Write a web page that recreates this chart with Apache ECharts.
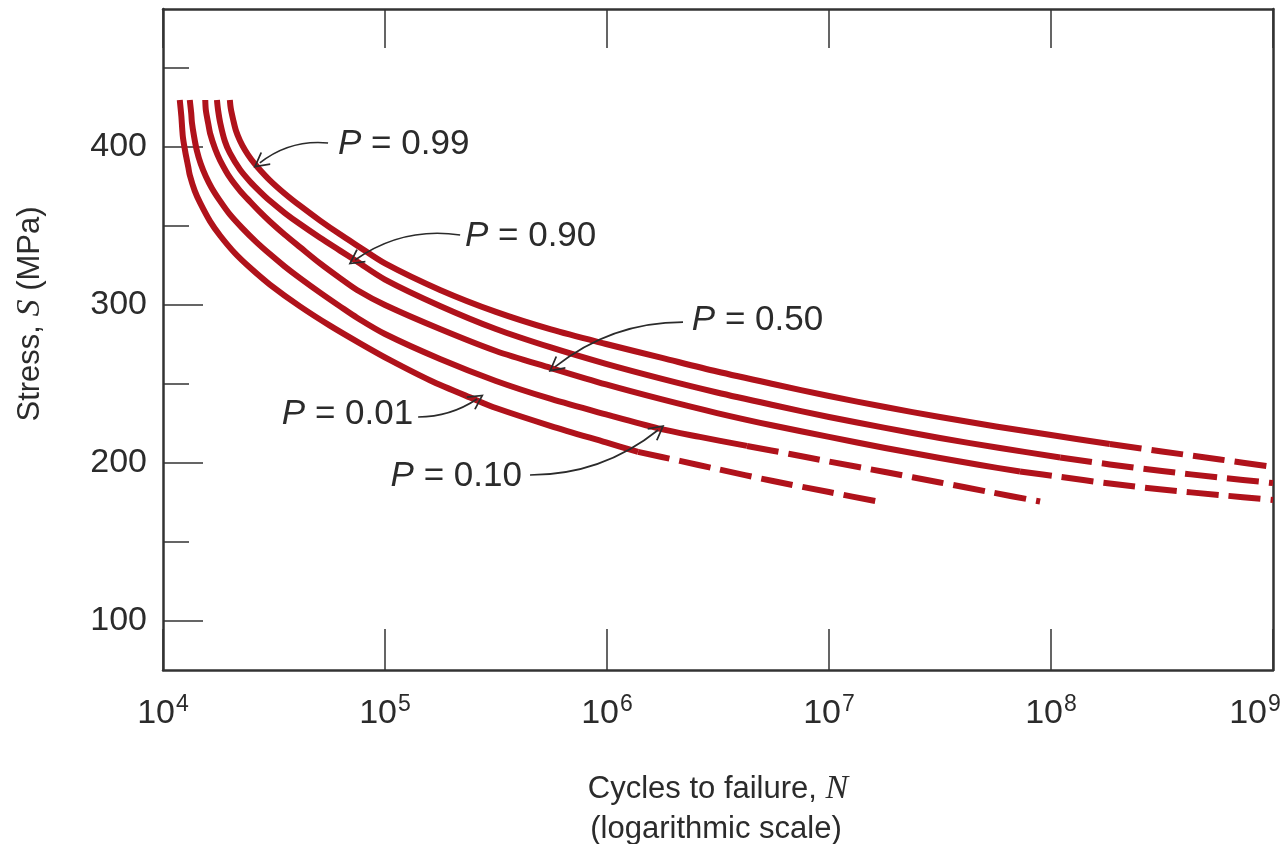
<!DOCTYPE html>
<html>
<head>
<meta charset="utf-8">
<script src="https://cdn.jsdelivr.net/npm/echarts@6/dist/echarts.min.js"></script>
<style>
html,body{margin:0;padding:0;background:#ffffff;}
#chart{width:1283px;height:844px;}
</style>
</head>
<body>
<div id="chart"></div>
<script>
// ---- data (N = cycles to failure, S = stress in MPa) ----
const xTickExponents = [4, 5, 6, 7, 8, 9];
const yMajorTicks = [100, 200, 300, 400];
const yMinorTicks = [150, 250, 350, 450];

const p99Solid = [[2.00e4,429.7],[2.02e4,424.3],[2.07e4,417.3],[2.13e4,410.4],[2.22e4,404.1],[2.34e4,398.1],[2.49e4,392.4],[2.68e4,386.9],[3.03e4,378.9],[3.54e4,370.4],[4.14e4,362.8],[5.10e4,353.4],[6.27e4,344.7],[7.48e4,337.7],[1.00e5,326.3],[1.77e5,309.5],[3.16e5,295.6],[5.59e5,284.5],[9.90e5,275.3],[1.77e6,266.5],[3.13e6,257.9],[5.59e6,250.0],[1.00e7,242.4],[1.79e7,235.4],[3.16e7,229.1],[5.65e7,223.1],[1.00e8,217.7],[1.84e8,212.0]];
const p99Dashed = [[1.84e8,212.0],[3.16e8,207.3],[5.77e8,202.2],[1.00e9,197.5]];

const p90Solid = [[1.75e4,429.7],[1.77e4,423.4],[1.81e4,415.3],[1.90e4,403.6],[2.00e4,396.3],[2.22e4,385.8],[2.47e4,378.0],[2.74e4,371.6],[3.03e4,365.9],[3.54e4,358.2],[4.14e4,351.2],[5.10e4,342.5],[6.27e4,334.4],[7.48e4,327.5],[1.00e5,316.1],[1.77e5,299.4],[3.16e5,284.8],[5.59e5,273.1],[9.90e5,262.7],[1.77e6,253.2],[3.13e6,244.6],[5.59e6,236.7],[1.00e7,229.1],[1.79e7,222.2],[3.16e7,215.8],[5.89e7,209.5],[1.10e8,203.5]];
const p90Dashed = [[1.10e8,203.5],[1.84e8,199.1],[3.16e8,194.9],[5.77e8,190.8],[1.00e9,187.3]];

const p50Solid = [[1.55e4,429.7],[1.56e4,423.1],[1.60e4,414.5],[1.63e4,408.6],[1.72e4,398.5],[1.81e4,391.4],[2.00e4,380.7],[2.22e4,372.4],[2.47e4,365.3],[2.74e4,358.7],[3.03e4,352.8],[3.54e4,344.4],[4.14e4,336.6],[5.10e4,326.3],[6.27e4,317.0],[7.48e4,309.5],[1.00e5,300.0],[1.77e5,284.8],[3.16e5,270.9],[5.59e5,260.1],[9.90e5,249.7],[1.77e6,240.2],[3.13e6,231.6],[5.59e6,223.7],[1.00e7,216.5],[1.79e7,209.5],[3.16e7,203.2],[4.79e7,198.7],[7.25e7,194.6]];
const p50Dashed = [[7.25e7,194.6],[1.10e8,191.2],[1.84e8,187.0],[3.16e8,183.2],[5.77e8,179.7],[1.00e9,176.6]];

const p10Solid = [[1.32e4,429.7],[1.34e4,421.4],[1.35e4,415.4],[1.38e4,406.7],[1.42e4,397.8],[1.48e4,389.2],[1.56e4,381.3],[1.66e4,373.9],[1.81e4,365.7],[2.00e4,357.3],[2.27e4,348.8],[2.62e4,340.1],[3.03e4,332.2],[3.54e4,324.3],[4.14e4,317.0],[5.10e4,307.8],[6.27e4,299.1],[7.48e4,291.9],[1.00e5,281.6],[1.77e5,265.8],[3.16e5,251.9],[5.59e5,240.5],[9.90e5,230.7],[1.70e6,221.9],[2.62e6,216.5],[4.27e6,210.8]];
const p10Dashed = [[4.27e6,210.8],[6.67e6,205.7],[1.00e7,200.9],[1.79e7,194.3],[3.16e7,187.7],[5.31e7,181.6],[8.93e7,175.6]];

const p01Solid = [[1.19e4,429.7],[1.21e4,419.2],[1.22e4,411.8],[1.23e4,405.9],[1.26e4,396.9],[1.30e4,387.2],[1.32e4,382.2],[1.39e4,372.2],[1.47e4,364.6],[1.63e4,352.9],[1.81e4,343.8],[2.11e4,332.7],[2.47e4,323.5],[3.03e4,312.9],[4.14e4,299.1],[5.65e4,286.9],[7.72e4,275.7],[1.05e5,265.2],[1.60e5,252.2],[2.54e5,240.2],[3.16e5,234.8],[5.59e5,223.4],[9.90e5,213.0],[1.38e6,207.0]];
const p01Dashed = [[1.38e6,207.0],[2.13e6,201.3],[3.13e6,196.2],[5.59e6,188.6],[1.00e7,181.6],[1.75e7,175.0]];

// annotations: label text, label anchor [N,S], arrow from/to [N,S]
const annLabels = ['0.99', '0.90', '0.50', '0.01', '0.10'];
const annAnchors = [[6.14e4,401.9],[2.29e5,343.7],[2.41e6,290.5],[1.34e5,231.0],[4.14e5,191.8]];
const annArrowFrom = [[5.54e4,402.5],[2.18e5,344.3],[2.20e6,289.2],[1.41e5,229.1],[4.50e5,192.4]];
const annArrowTo = [[2.73e4,389.9],[7.33e4,328.5],[5.83e5,260.8],[2.60e5,240.5],[1.70e6,220.9]];
const annCurveness = [-0.2, -0.2, -0.175, -0.15, -0.175];
const annSide = ['right', 'right', 'right', 'left', 'left'];

// ---- styling ----
const RED = '#b0121b';
const INK = '#2b2b2b';
const AXIS = '#333333';
const FONT = 'Liberation Sans';

function curve(data, dashed) {
  return {
    type: 'line',
    data: data,
    xAxisIndex: 0, yAxisIndex: 0,
    showSymbol: false,
    symbol: 'none',
    smooth: 0.3,
    silent: true,
    z: 3,
    lineStyle: { color: RED, width: 6, type: dashed ? [32, 10] : 'solid', cap: 'butt', join: 'round' }
  };
}

const series = [
  curve(p99Solid, false), curve(p99Dashed, true),
  curve(p90Solid, false), curve(p90Dashed, true),
  curve(p50Solid, false), curve(p50Dashed, true),
  curve(p10Solid, false), curve(p10Dashed, true),
  curve(p01Solid, false), curve(p01Dashed, true)
];

series.push({
  type: 'lines',
  coordinateSystem: 'cartesian2d',
  xAxisIndex: 0, yAxisIndex: 0,
  silent: true,
  z: 4,
  symbol: ['none', 'path://M5,0 L10,9 L9.1,9.6 L5,2.2 L0.9,9.6 L0,9 Z'],
  symbolSize: [18, 16],
  lineStyle: { color: INK, width: 1.7, opacity: 1 },
  data: annArrowFrom.map((f, i) => ({
    coords: [f, annArrowTo[i]],
    lineStyle: { curveness: annCurveness[i] }
  }))
});

series.push({
  type: 'scatter',
  xAxisIndex: 0, yAxisIndex: 0,
  silent: true,
  symbolSize: 0.1,
  itemStyle: { color: 'rgba(0,0,0,0)', opacity: 1 },
  z: 5,
  data: annAnchors.map((a, i) => ({
    value: a,
    label: {
      show: true,
      position: annSide[i],
      distance: 0,
      opacity: 1,
      formatter: '{i|P} = ' + annLabels[i],
      fontSize: 35,
      fontFamily: FONT,
      color: INK,
      rich: { i: { fontStyle: 'italic', fontSize: 35, fontFamily: FONT, color: INK } }
    }
  }))
});

const lastExp = xTickExponents[xTickExponents.length - 1];

const chart = echarts.init(document.getElementById('chart'), null, { renderer: 'canvas' });
chart.setOption({
  animation: false,
  backgroundColor: '#ffffff',
  grid: { left: 163, right: 10, top: 9, bottom: 174, containLabel: false, outerBoundsMode: 'none' },
  xAxis: [
    {
      type: 'log', logBase: 10,
      min: Math.pow(10, xTickExponents[0]), max: Math.pow(10, lastExp),
      position: 'bottom',
      axisLine: { show: true, lineStyle: { color: AXIS, width: 2.5 } },
      axisTick: { show: true, inside: true, length: 41, lineStyle: { color: AXIS, width: 1.5 } },
      minorTick: { show: false },
      splitLine: { show: false },
      axisLabel: {
        margin: 24,
        hideOverlap: false,
        showMinLabel: true, showMaxLabel: true,
        formatter: function (v) {
          const e = Math.round(Math.log10(v));
          return '{b|10}{s|' + e + '}' + (e === lastExp ? '{p|}' : '');
        },
        rich: {
          b: { fontSize: 34, fontFamily: FONT, color: INK, lineHeight: 40 },
          s: { fontSize: 23, fontFamily: FONT, color: INK, lineHeight: 23, padding: [0, 0, 18, 1] },
          p: { width: 36, fontSize: 10 }
        }
      }
    },
    {
      type: 'log', logBase: 10,
      min: Math.pow(10, xTickExponents[0]), max: Math.pow(10, lastExp),
      position: 'top',
      axisLine: { show: true, lineStyle: { color: AXIS, width: 2.5 } },
      axisTick: { show: true, inside: true, length: 39, lineStyle: { color: AXIS, width: 1.5 } },
      axisLabel: { show: false },
      splitLine: { show: false }
    }
  ],
  yAxis: [
    {
      type: 'value', position: 'left', min: 69, max: 487.3,
      axisLine: { show: true, lineStyle: { color: AXIS, width: 2.5 } },
      axisTick: { show: true, inside: true, length: 40, customValues: yMajorTicks, lineStyle: { color: AXIS, width: 1.5 } },
      axisLabel: { show: true, customValues: yMajorTicks, margin: 16, fontSize: 34, fontFamily: FONT, color: INK },
      splitLine: { show: false }
    },
    {
      type: 'value', position: 'left', min: 69, max: 487.3,
      axisLine: { show: false },
      axisTick: { show: true, inside: true, length: 26, customValues: yMinorTicks, lineStyle: { color: AXIS, width: 1.5 } },
      axisLabel: { show: false },
      splitLine: { show: false }
    },
    {
      type: 'value', position: 'right', min: 69, max: 487.3,
      axisLine: { show: true, lineStyle: { color: AXIS, width: 2.5 } },
      axisTick: { show: false },
      axisLabel: { show: false },
      splitLine: { show: false }
    }
  ],
  graphic: [
    {
      type: 'text', x: 30, y: 314, rotation: Math.PI / 2,
      style: {
        text: 'Stress, {s|S} (MPa)',
        fontSize: 31, fontFamily: FONT, fill: INK,
        align: 'center', verticalAlign: 'middle',
        rich: { s: { fontFamily: 'Liberation Serif', fontStyle: 'italic', fontSize: 34, fill: INK } }
      }
    },
    {
      type: 'text', x: 718, y: 789,
      style: {
        text: 'Cycles to failure, {n|N}',
        fontSize: 31, fontFamily: FONT, fill: INK,
        align: 'center', verticalAlign: 'middle',
        rich: { n: { fontFamily: 'Liberation Serif', fontStyle: 'italic', fontSize: 34, fill: INK } }
      }
    },
    {
      type: 'text', x: 716, y: 829,
      style: {
        text: '(logarithmic scale)',
        fontSize: 31, fontFamily: FONT, fill: INK,
        align: 'center', verticalAlign: 'middle'
      }
    }
  ],
  series: series
});
</script>
</body>
</html>
